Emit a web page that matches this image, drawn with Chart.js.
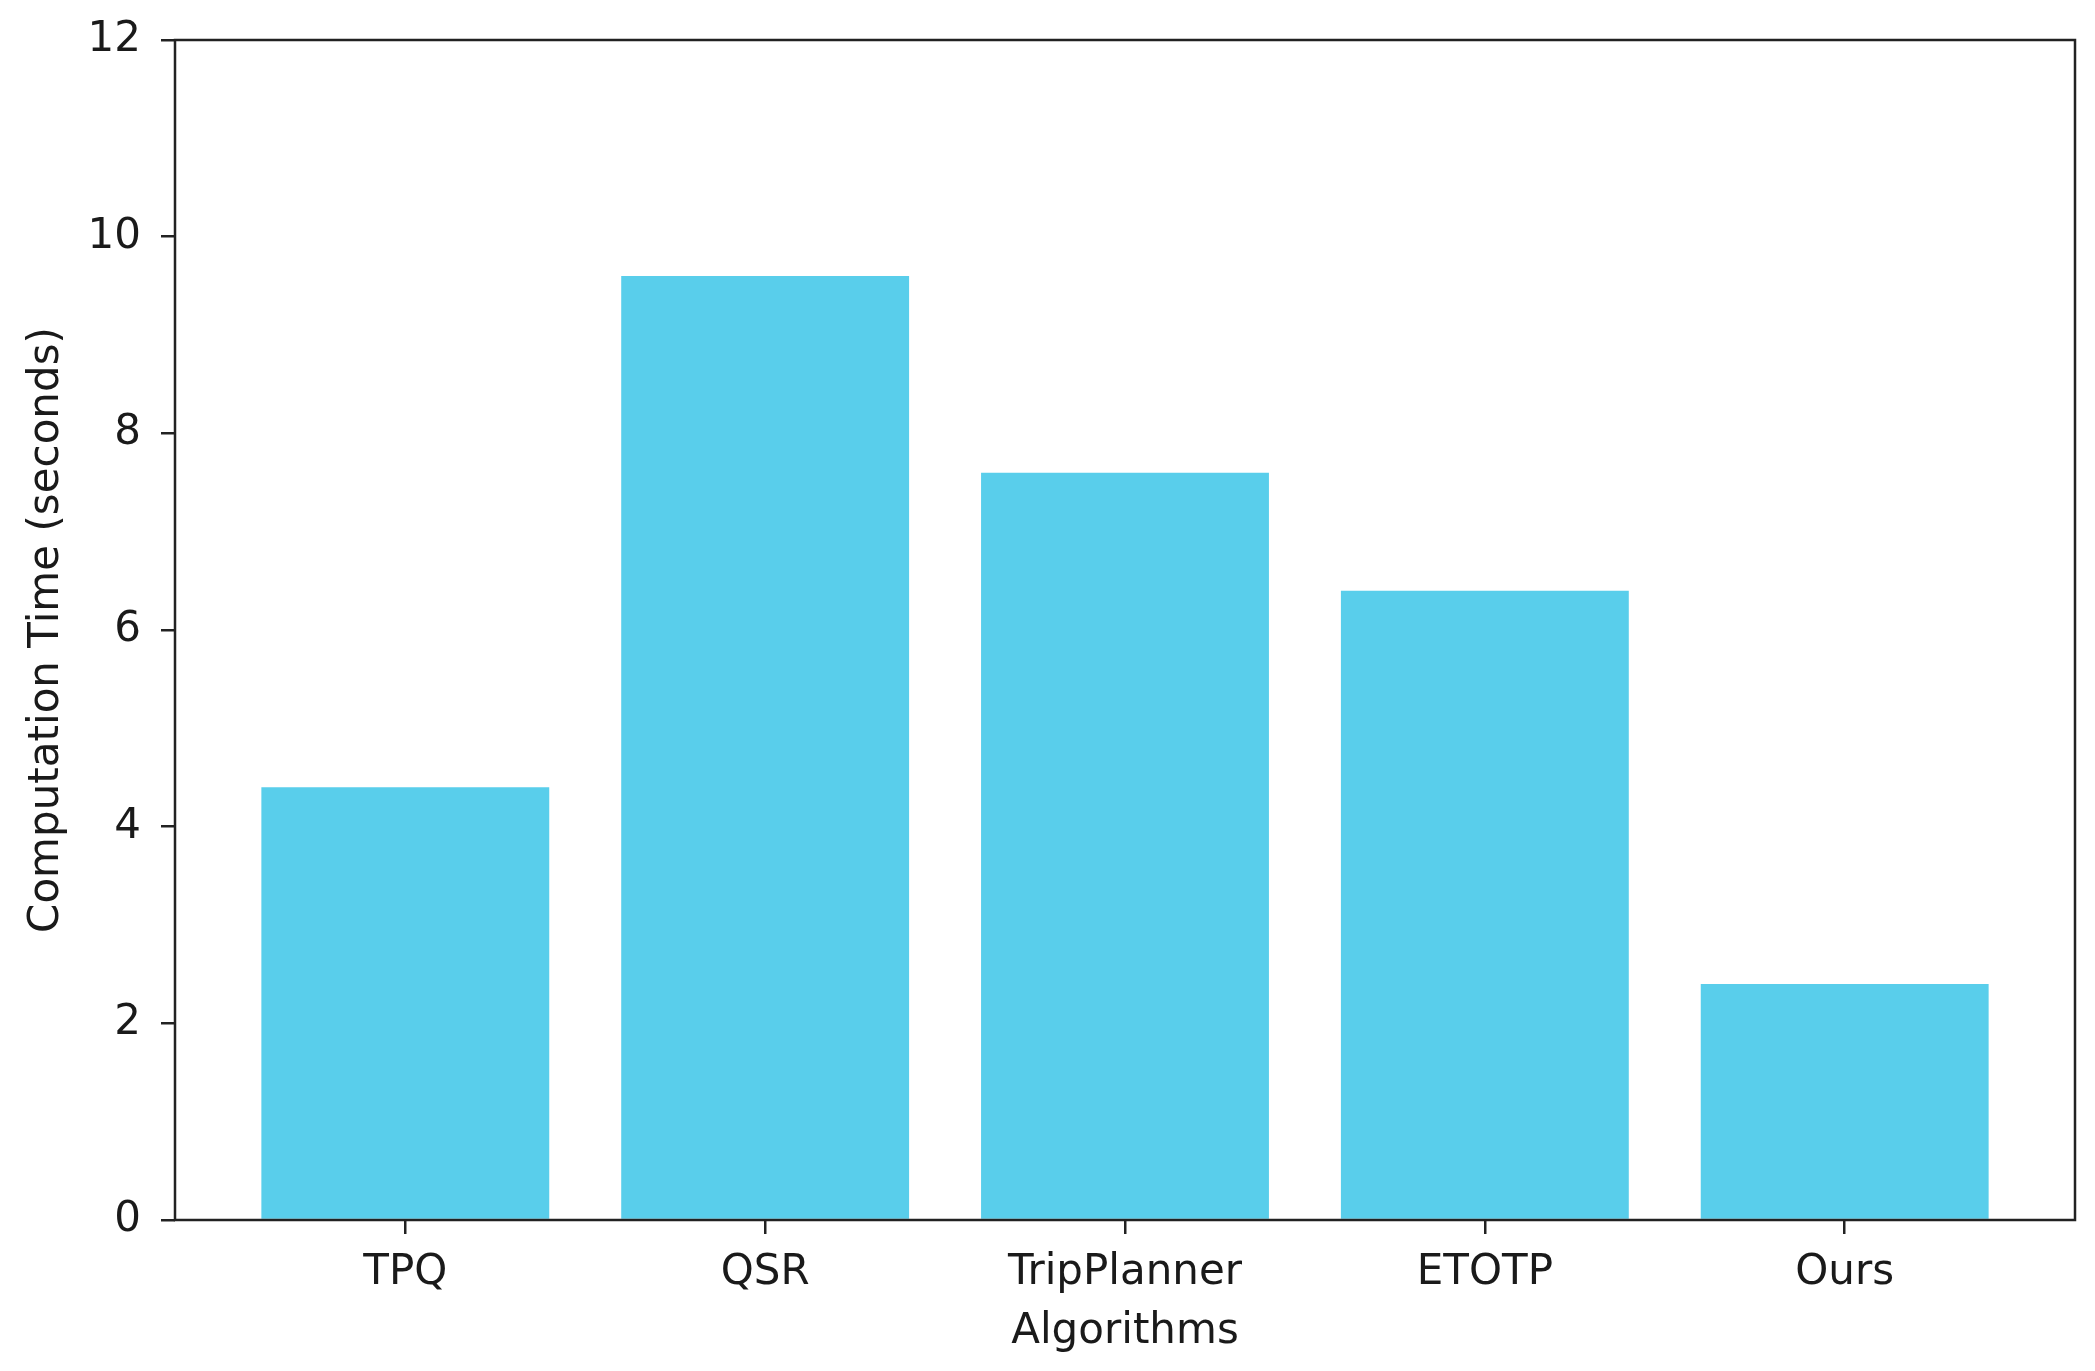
<!DOCTYPE html>
<html>
<head>
<meta charset="utf-8">
<script src="https://cdn.jsdelivr.net/npm/chart.js@4.4.1/dist/chart.umd.min.js"></script>
<style>
  html, body { margin: 0; padding: 0; background: #fff; }
  #wrap { width: 2095px; height: 1371px; }
</style>
</head>
<body>
<div id="wrap"><canvas id="myChart" width="2095" height="1371"></canvas></div>
<script>
var algorithms = ['TPQ', 'QSR', 'TripPlanner', 'ETOTP', 'Ours'];
var computeTime = [4.4, 9.6, 7.6, 6.4, 2.4];
var yTicks = [0, 2, 4, 6, 8, 10, 12];

var barColor = '#59CEEB';
var axisColor = '#222222';
var font = { family: 'DejaVu Sans', size: 42 };

// box around the plot area, drawn over the bars like matplotlib spines
var frame = {
  id: 'frame',
  afterDatasetsDraw: function(chart) {
    var a = chart.chartArea;
    var ctx = chart.ctx;
    ctx.save();
    ctx.strokeStyle = axisColor;
    ctx.lineWidth = 2.5;
    ctx.strokeRect(a.left, a.top, a.right - a.left, a.bottom - a.top);
    ctx.restore();
  }
};

var points = [];
for (var i = 0; i < computeTime.length; i++) {
  points.push({ x: i, y: computeTime[i] });
}

var ctx = document.getElementById('myChart');
var myChart = new Chart(ctx, {
  type: 'bar',
  data: {
    datasets: [{
      label: 'Computation Time',
      data: points,
      backgroundColor: barColor,
      borderWidth: 0,
      categoryPercentage: 0.8,
      barPercentage: 1
    }]
  },
  options: {
    responsive: false,
    animation: false,
    layout: { padding: { left: 22, right: 20, top: 40, bottom: 14 } },
    plugins: { legend: { display: false }, tooltip: { enabled: false } },
    scales: {
      x: {
        type: 'linear',
        offset: false,
        min: -0.64,
        max: 4.64,
        afterBuildTicks: function(scale) {
          scale.ticks = algorithms.map(function(n, i) { return { value: i }; });
        },
        afterFit: function(scale) {
          scale.height = 137;
          scale.paddingLeft = 0;
          scale.paddingRight = 0;
        },
        border: { display: false },
        grid: { offset: false, drawOnChartArea: false, drawTicks: true, tickLength: 14, color: axisColor, lineWidth: 2.5 },
        ticks: {
          font: font, color: '#1a1a1a', padding: 14, maxRotation: 0, autoSkip: false,
          callback: function(v) { return algorithms[v]; }
        },
        title: { display: true, text: 'Algorithms', font: font, color: '#1a1a1a', padding: 0 }
      },
      y: {
        min: 0,
        max: 12,
        afterBuildTicks: function(scale) {
          scale.ticks = yTicks.map(function(v) { return { value: v }; });
        },
        afterFit: function(scale) {
          scale.width = 153;
          scale.paddingTop = 20;
          scale.paddingBottom = 20;
        },
        border: { display: false },
        grid: { drawOnChartArea: false, drawTicks: true, tickLength: 14, color: axisColor, lineWidth: 2.5 },
        ticks: { font: font, color: '#1a1a1a', padding: 20 },
        title: { display: true, text: 'Computation Time (seconds)', font: font, color: '#1a1a1a', padding: 0 }
      }
    }
  },
  plugins: [frame]
});
</script>
</body>
</html>
